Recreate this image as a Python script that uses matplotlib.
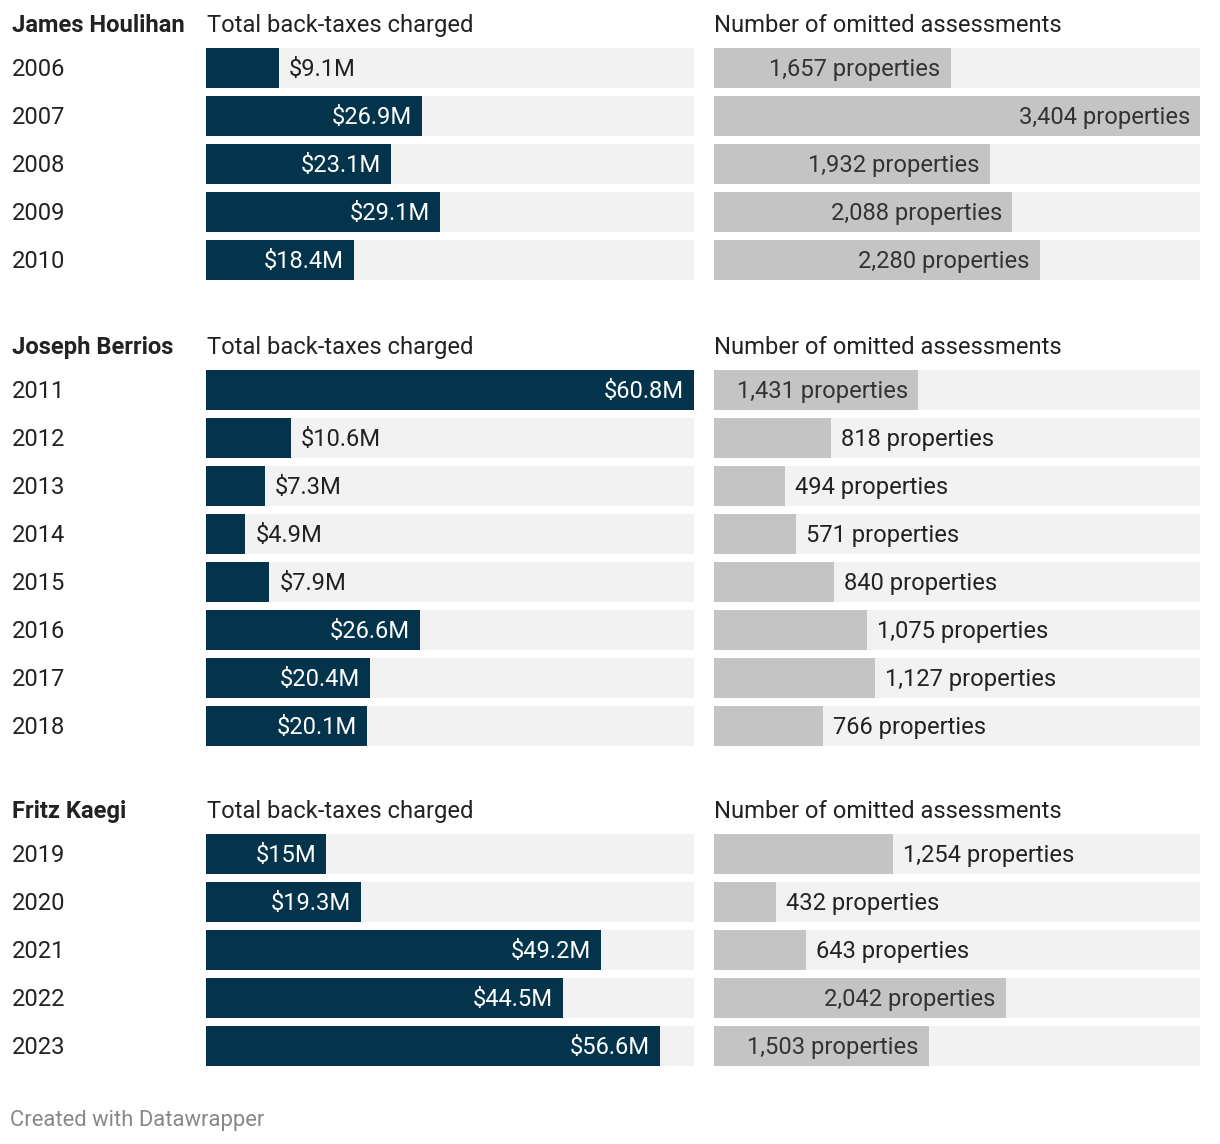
import matplotlib
matplotlib.use("Agg")
import matplotlib.pyplot as plt

plt.rcParams['font.family'] = ['Roboto', 'DejaVu Sans']

groups = ["James Houlihan", "Joseph Berrios", "Fritz Kaegi"]
years = [
    ["2006", "2007", "2008", "2009", "2010"],
    ["2011", "2012", "2013", "2014", "2015", "2016", "2017", "2018"],
    ["2019", "2020", "2021", "2022", "2023"],
]
taxes = [
    [9.1, 26.9, 23.1, 29.1, 18.4],
    [60.8, 10.6, 7.3, 4.9, 7.9, 26.6, 20.4, 20.1],
    [15, 19.3, 49.2, 44.5, 56.6],
]
props = [
    [1657, 3404, 1932, 2088, 2280],
    [1431, 818, 494, 571, 840, 1075, 1127, 766],
    [1254, 432, 643, 2042, 1503],
]
col_titles = ["Total back-taxes charged", "Number of omitted assessments"]

W, H = 1220, 1144
DARK = "#04344c"
GRAY = "#c4c4c4"
BG = "#f2f2f2"
FS = 17.15

fig = plt.figure(figsize=(W / 100, H / 100), dpi=100)
renderer = fig.canvas.get_renderer()

tax_max = max(max(t) for t in taxes)
prop_max = max(max(p) for p in props)


def fmt_tax(v):
    return "${:g}M".format(v)


def fmt_prop(v):
    return "{:,} properties".format(v)


def draw_col(ax, vals, vmax, color, fmt, in_color, out_color):
    n = len(vals)
    ys = list(range(n))
    ax.barh(ys, [vmax] * n, height=40 / 48, color=BG, left=0)
    ax.barh(ys, vals, height=40 / 48, color=color)
    ax.set_xlim(0, vmax)
    ax.set_ylim(n - 1 + 20 / 48, -20 / 48)
    ax.axis("off")
    px_per_unit = ax.get_window_extent(renderer).width / vmax
    for y, v in zip(ys, vals):
        label = fmt(v)
        # nudge up by ~1px
        t = ax.text(v, y - 1 / 48, label, fontsize=FS, va="center_baseline",
                    ha="right", color=in_color)
        tw = t.get_window_extent(renderer).width
        bw = v * px_per_unit
        if bw >= tw + 20:
            t.set_x(v - 10 / px_per_unit)
        else:
            t.set_x(v + 10 / px_per_unit)
            t.set_ha("left")
            t.set_color(out_color)


header_ys = [24, 346, 810]
for g, name in enumerate(groups):
    header_y = header_ys[g]
    n = len(years[g])
    first = header_y + 44
    top = first - 20
    hpx = (n - 1) * 48 + 40
    ty = header_y - 1
    fig.text(12 / W, 1 - ty / H, name, fontsize=FS, fontweight="bold",
             color="#222222", va="center_baseline", ha="left")
    fig.text(207 / W, 1 - ty / H, col_titles[0], fontsize=FS,
             color="#222222", va="center_baseline", ha="left")
    fig.text(714 / W, 1 - ty / H, col_titles[1], fontsize=FS,
             color="#222222", va="center_baseline", ha="left")
    for i, yr in enumerate(years[g]):
        fig.text(12 / W, 1 - (first + 48 * i - 1) / H, yr, fontsize=FS,
                 color="#222222", va="center_baseline", ha="left")

    ax1 = fig.add_axes([206 / W, 1 - (top + hpx) / H, 488 / W, hpx / H])
    draw_col(ax1, taxes[g], tax_max, DARK, fmt_tax, "white", "#222222")
    ax2 = fig.add_axes([714 / W, 1 - (top + hpx) / H, 486 / W, hpx / H])
    draw_col(ax2, props[g], prop_max, GRAY, fmt_prop, "#333333", "#222222")

fig.text(10 / W, 1 - 1118 / H, "Created with Datawrapper", fontsize=15.8,
         color="#888888", va="center_baseline", ha="left")

fig.savefig("out.png", dpi=100)
